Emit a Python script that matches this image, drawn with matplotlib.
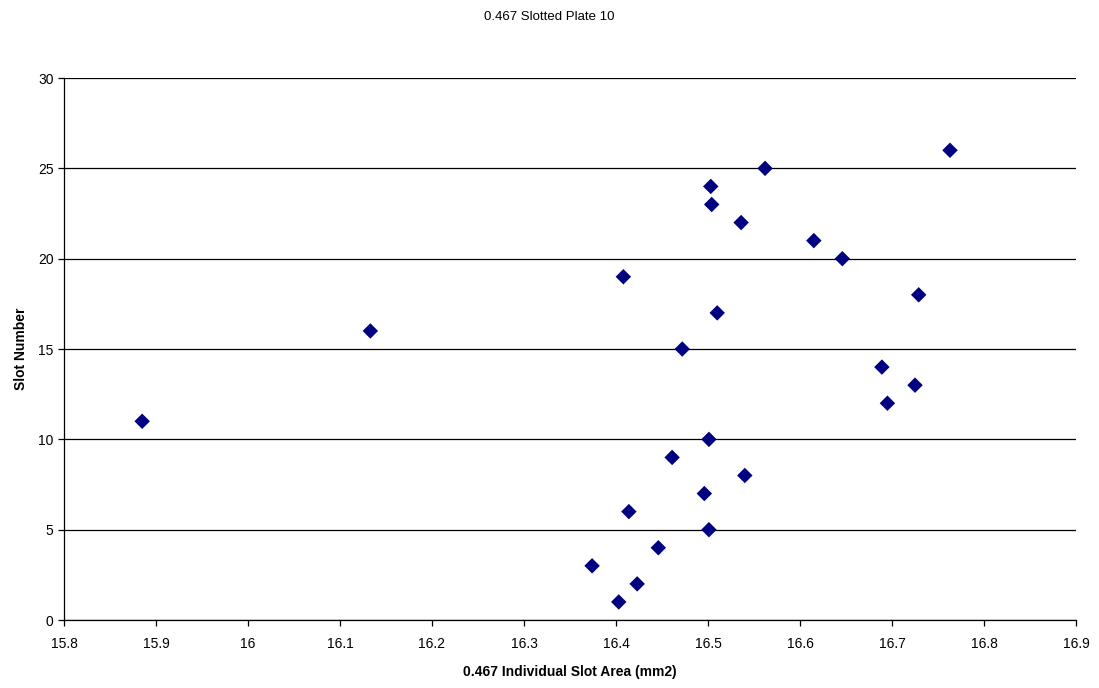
import matplotlib
matplotlib.use("Agg")
import matplotlib.pyplot as plt

plt.rcParams['font.family'] = ['Liberation Sans', 'DejaVu Sans']

slot_area = [16.403, 16.423, 16.374, 16.446, 16.501, 16.414, 16.496, 16.540,
             16.461, 16.501, 15.885, 16.695, 16.725, 16.689, 16.472, 16.133,
             16.510, 16.729, 16.408, 16.646, 16.615, 16.536, 16.504, 16.503,
             16.562, 16.763]
slot_number = list(range(1, 27))

x_ticks = [15.8, 15.9, 16.0, 16.1, 16.2, 16.3, 16.4, 16.5, 16.6, 16.7, 16.8, 16.9]
x_tick_labels = ["15.8", "15.9", "16", "16.1", "16.2", "16.3", "16.4", "16.5",
                 "16.6", "16.7", "16.8", "16.9"]
y_ticks = [0, 5, 10, 15, 20, 25, 30]

fig = plt.figure(figsize=(10.99, 6.88), dpi=100)
ax = fig.add_axes([0.0582, 0.0988, 0.9209, 0.7878])

ax.scatter(slot_area, slot_number, marker='D', s=62, color='#000080',
           edgecolors='none', zorder=3, clip_on=False)

ax.set_xlim(15.8, 16.9)
ax.set_ylim(0, 30)
ax.set_xticks(x_ticks)
ax.set_xticklabels(x_tick_labels)
ax.set_yticks(y_ticks)
ax.yaxis.grid(True, color='black', linewidth=0.9)
ax.set_axisbelow(True)

for side in ('top', 'right'):
    ax.spines[side].set_visible(False)
for side in ('left', 'bottom'):
    ax.spines[side].set_color('black')
    ax.spines[side].set_linewidth(0.9)

ax.tick_params(axis='both', direction='out', length=4, width=0.9,
               labelsize=10, colors='black')
ax.tick_params(axis='x', pad=8)

ax.set_xlabel('0.467 Individual Slot Area (mm2)', fontsize=10,
              fontweight='bold', labelpad=10)
ax.set_ylabel('Slot Number', fontsize=10, fontweight='bold', labelpad=7)
fig.text(0.5, 0.984, '0.467 Slotted Plate 10', ha='center', va='top',
         fontsize=9.5)

fig.savefig('out.png', dpi=100, facecolor='white')
